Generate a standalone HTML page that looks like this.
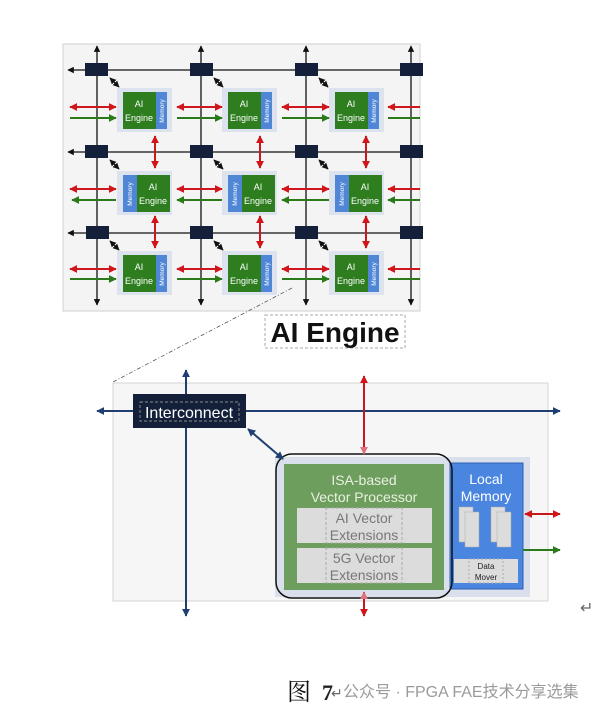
<!DOCTYPE html>
<html><head><meta charset="utf-8"><style>
html,body{margin:0;padding:0;background:#fff;width:610px;height:715px;overflow:hidden}
svg{display:block}
text{font-family:"Liberation Sans",Arial,sans-serif}
</style></head><body>
<svg width="610" height="715" viewBox="0 0 610 715" xmlns="http://www.w3.org/2000/svg">
<defs>
<marker id="k" viewBox="0 0 10 10" refX="9" refY="5" markerWidth="5" markerHeight="5" orient="auto-start-reverse"><path d="M0,0L10,5L0,10z" fill="#111"/></marker>
<marker id="r" viewBox="0 0 10 10" refX="9" refY="5" markerWidth="4" markerHeight="4" orient="auto-start-reverse"><path d="M0,0L10,5L0,10z" fill="#d0161b"/></marker>
<marker id="g" viewBox="0 0 10 10" refX="9" refY="5" markerWidth="4" markerHeight="4" orient="auto-start-reverse"><path d="M0,0L10,5L0,10z" fill="#2a7a1a"/></marker>
<marker id="n" viewBox="0 0 10 10" refX="9" refY="5" markerWidth="4" markerHeight="4" orient="auto-start-reverse"><path d="M0,0L10,5L0,10z" fill="#1f3f73"/></marker>
<marker id="pr" viewBox="0 0 10 10" refX="9" refY="5" markerWidth="4" markerHeight="4" orient="auto-start-reverse"><path d="M0,0L10,5L0,10z" fill="#e0707a"/></marker>
<g id="tileA">
<rect x="-6" y="-4" width="55" height="44" fill="#dde3ee"/>
<rect x="0" y="0" width="33" height="37" fill="#2e7d1f"/>
<rect x="33" y="0" width="11" height="37" fill="#4f86d6"/>
</g>
<g id="tileB">
<rect x="-6" y="-4" width="55" height="44" fill="#dde3ee"/>
<rect x="0" y="0" width="14" height="37" fill="#4f86d6"/>
<rect x="14" y="0" width="33" height="37" fill="#2e7d1f"/>
</g>
</defs>

<rect x="63" y="44" width="357" height="267" fill="#f4f4f4" stroke="#d0d0d0"/>

<g stroke="#111" stroke-width="1.3" fill="none">
<line x1="97" y1="46" x2="97" y2="305" marker-start="url(#k)" marker-end="url(#k)"/>
<line x1="201" y1="46" x2="201" y2="305" marker-start="url(#k)" marker-end="url(#k)"/>
<line x1="306" y1="46" x2="306" y2="305" marker-start="url(#k)" marker-end="url(#k)"/>
<line x1="411" y1="46" x2="411" y2="305" marker-start="url(#k)" marker-end="url(#k)"/>
<line x1="68" y1="70" x2="420" y2="70" marker-start="url(#k)" marker-end="url(#k)"/>
<line x1="68" y1="152" x2="420" y2="152" marker-start="url(#k)" marker-end="url(#k)"/>
<line x1="68" y1="233" x2="420" y2="233" marker-start="url(#k)" marker-end="url(#k)"/>
<line x1="110" y1="78" x2="119" y2="87" marker-start="url(#k)" marker-end="url(#k)"/>
<line x1="214" y1="78" x2="223" y2="87" marker-start="url(#k)" marker-end="url(#k)"/>
<line x1="319" y1="78" x2="328" y2="87" marker-start="url(#k)" marker-end="url(#k)"/>
<line x1="110" y1="160" x2="119" y2="169" marker-start="url(#k)" marker-end="url(#k)"/>
<line x1="214" y1="160" x2="223" y2="169" marker-start="url(#k)" marker-end="url(#k)"/>
<line x1="319" y1="160" x2="328" y2="169" marker-start="url(#k)" marker-end="url(#k)"/>
<line x1="110" y1="241" x2="119" y2="250" marker-start="url(#k)" marker-end="url(#k)"/>
<line x1="214" y1="241" x2="223" y2="250" marker-start="url(#k)" marker-end="url(#k)"/>
<line x1="319" y1="241" x2="328" y2="250" marker-start="url(#k)" marker-end="url(#k)"/>
</g>
<g fill="#14203a">
<rect x="85" y="63" width="23" height="13"/><rect x="190" y="63" width="23" height="13"/><rect x="295" y="63" width="23" height="13"/><rect x="400" y="63" width="23" height="13"/>
<rect x="85" y="145" width="23" height="13"/><rect x="190" y="145" width="23" height="13"/><rect x="295" y="145" width="23" height="13"/><rect x="400" y="145" width="23" height="13"/>
<rect x="86" y="226" width="23" height="13"/><rect x="190" y="226" width="23" height="13"/><rect x="295" y="226" width="23" height="13"/><rect x="400" y="226" width="23" height="13"/>
</g>
<use href="#tileA" x="123" y="92"/><use href="#tileA" x="228" y="92"/><use href="#tileA" x="335" y="92"/>
<use href="#tileB" x="123" y="175"/><use href="#tileB" x="228" y="175"/><use href="#tileB" x="335" y="175"/>
<use href="#tileA" x="123" y="255"/><use href="#tileA" x="228" y="255"/><use href="#tileA" x="335" y="255"/>
<g fill="#fff" font-size="9" text-anchor="middle">
<text x="139" y="107">AI</text><text x="139" y="121">Engine</text>
<text x="244" y="107">AI</text><text x="244" y="121">Engine</text>
<text x="351" y="107">AI</text><text x="351" y="121">Engine</text>
<text x="153" y="190">AI</text><text x="153" y="204">Engine</text>
<text x="258" y="190">AI</text><text x="258" y="204">Engine</text>
<text x="365" y="190">AI</text><text x="365" y="204">Engine</text>
<text x="139" y="270">AI</text><text x="139" y="284">Engine</text>
<text x="244" y="270">AI</text><text x="244" y="284">Engine</text>
<text x="351" y="270">AI</text><text x="351" y="284">Engine</text>
</g>
<g fill="#fff" font-size="6.5" text-anchor="middle">
<text transform="translate(164,111) rotate(-90)">Memory</text>
<text transform="translate(269,111) rotate(-90)">Memory</text>
<text transform="translate(376,111) rotate(-90)">Memory</text>
<text transform="translate(132,194) rotate(-90)">Memory</text>
<text transform="translate(237,194) rotate(-90)">Memory</text>
<text transform="translate(344,194) rotate(-90)">Memory</text>
<text transform="translate(164,274) rotate(-90)">Memory</text>
<text transform="translate(269,274) rotate(-90)">Memory</text>
<text transform="translate(376,274) rotate(-90)">Memory</text>
</g>
<g stroke="#d0161b" stroke-width="2" fill="none">
<line x1="70" y1="107" x2="116" y2="107" marker-start="url(#r)" marker-end="url(#r)"/>
<line x1="177" y1="107" x2="222" y2="107" marker-start="url(#r)" marker-end="url(#r)"/>
<line x1="282" y1="107" x2="329" y2="107" marker-start="url(#r)" marker-end="url(#r)"/>
<line x1="388" y1="107" x2="420" y2="107" marker-start="url(#r)"/>
<line x1="70" y1="189" x2="116" y2="189" marker-start="url(#r)" marker-end="url(#r)"/>
<line x1="177" y1="189" x2="222" y2="189" marker-start="url(#r)" marker-end="url(#r)"/>
<line x1="282" y1="189" x2="329" y2="189" marker-start="url(#r)" marker-end="url(#r)"/>
<line x1="388" y1="189" x2="420" y2="189" marker-start="url(#r)"/>
<line x1="70" y1="269" x2="116" y2="269" marker-start="url(#r)" marker-end="url(#r)"/>
<line x1="177" y1="269" x2="222" y2="269" marker-start="url(#r)" marker-end="url(#r)"/>
<line x1="282" y1="269" x2="329" y2="269" marker-start="url(#r)" marker-end="url(#r)"/>
<line x1="388" y1="269" x2="420" y2="269" marker-start="url(#r)"/>
<line x1="155" y1="136" x2="155" y2="168" marker-start="url(#r)" marker-end="url(#r)"/>
<line x1="260" y1="136" x2="260" y2="168" marker-start="url(#r)" marker-end="url(#r)"/>
<line x1="366" y1="136" x2="366" y2="168" marker-start="url(#r)" marker-end="url(#r)"/>
<line x1="155" y1="216" x2="155" y2="248" marker-start="url(#r)" marker-end="url(#r)"/>
<line x1="260" y1="216" x2="260" y2="248" marker-start="url(#r)" marker-end="url(#r)"/>
<line x1="366" y1="216" x2="366" y2="248" marker-start="url(#r)" marker-end="url(#r)"/>
</g>
<g stroke="#2a7a1a" stroke-width="2" fill="none">
<line x1="70" y1="118" x2="116" y2="118" marker-end="url(#g)"/>
<line x1="177" y1="118" x2="222" y2="118" marker-end="url(#g)"/>
<line x1="282" y1="118" x2="329" y2="118" marker-end="url(#g)"/>
<line x1="388" y1="118" x2="420" y2="118"/>
<line x1="72" y1="200" x2="116" y2="200" marker-start="url(#g)"/>
<line x1="177" y1="200" x2="222" y2="200" marker-start="url(#g)"/>
<line x1="282" y1="200" x2="329" y2="200" marker-start="url(#g)"/>
<line x1="388" y1="200" x2="420" y2="200" marker-start="url(#g)"/>
<line x1="70" y1="279" x2="116" y2="279" marker-end="url(#g)"/>
<line x1="177" y1="279" x2="222" y2="279" marker-end="url(#g)"/>
<line x1="282" y1="279" x2="329" y2="279" marker-end="url(#g)"/>
<line x1="388" y1="279" x2="420" y2="279"/>
</g>

<rect x="265" y="315" width="140" height="33" fill="#fff" stroke="#aaa" stroke-dasharray="3,2"/>
<text x="335" y="342" font-size="28" font-weight="bold" text-anchor="middle" fill="#111">AI Engine</text>
<line x1="292" y1="288" x2="113" y2="382" stroke="#555" stroke-width="0.8" stroke-dasharray="4,2,1,2"/>

<rect x="113" y="383" width="435" height="218" fill="#f6f6f6" stroke="#d4d4d4"/>
<rect x="275" y="457" width="255" height="140" fill="#d9e0ec"/>
<rect x="450" y="463" width="73" height="126" fill="#4a86e0" stroke="#2e5fb0"/>
<rect x="284" y="464" width="160" height="126" fill="#6e9e5e"/>
<rect x="276" y="454" width="176" height="144" rx="16" fill="none" stroke="#111" stroke-width="1.5"/>
<rect x="297" y="508" width="135" height="35" fill="#dcdcdc"/>
<rect x="297" y="548" width="135" height="35" fill="#dcdcdc"/>
<rect x="326" y="508" width="76" height="35" fill="none" stroke="#aaa" stroke-dasharray="3,2"/>
<rect x="326" y="548" width="76" height="35" fill="none" stroke="#aaa" stroke-dasharray="3,2"/>
<text x="364" y="485" font-size="14" fill="#e8f0e0" text-anchor="middle">ISA-based</text>
<text x="364" y="502" font-size="14" fill="#e8f0e0" text-anchor="middle">Vector Processor</text>
<g font-size="14" fill="#777" text-anchor="middle">
<text x="364" y="523">AI Vector</text><text x="364" y="540">Extensions</text>
<text x="364" y="563">5G Vector</text><text x="364" y="580">Extensions</text>
</g>
<text x="486" y="484" font-size="14" fill="#fff" text-anchor="middle">Local</text>
<text x="486" y="501" font-size="14" fill="#fff" text-anchor="middle">Memory</text>
<g fill="#dcdcdc" stroke="#aaa" stroke-width="0.5">
<rect x="459" y="507" width="14" height="35"/><rect x="465" y="512" width="14" height="35"/>
<rect x="491" y="507" width="14" height="35"/><rect x="497" y="512" width="14" height="35"/>
</g>
<rect x="454" y="559" width="64" height="24" fill="#dcdcdc"/>
<rect x="469" y="559" width="34" height="24" fill="none" stroke="#aaa" stroke-dasharray="2,2"/>
<text x="486" y="569" font-size="8" fill="#222" text-anchor="middle">Data</text>
<text x="486" y="580" font-size="8" fill="#222" text-anchor="middle">Mover</text>

<g stroke="#1f3f73" stroke-width="2" fill="none">
<line x1="186" y1="370" x2="186" y2="616" marker-start="url(#n)" marker-end="url(#n)"/>
<line x1="97" y1="411" x2="560" y2="411" marker-start="url(#n)" marker-end="url(#n)"/>
<line x1="248" y1="429" x2="283" y2="459" marker-start="url(#n)" marker-end="url(#n)"/>
</g>
<rect x="133" y="394" width="113" height="34" fill="#14203a"/>
<rect x="140" y="402" width="99" height="19" fill="none" stroke="#888" stroke-dasharray="3,2"/>
<text x="189" y="418" font-size="16" fill="#fff" text-anchor="middle">Interconnect</text>

<g stroke="#c8161b" stroke-width="2" fill="none">
<line x1="364" y1="376" x2="364" y2="454" marker-start="url(#r)" marker-end="url(#pr)"/>
<line x1="364" y1="592" x2="364" y2="616" marker-start="url(#pr)" marker-end="url(#r)"/>
<line x1="525" y1="514" x2="560" y2="514" marker-start="url(#r)" marker-end="url(#r)"/>
</g>
<line x1="523" y1="550" x2="560" y2="550" stroke="#2a7a1a" stroke-width="2" marker-end="url(#g)"/>

<text x="580" y="613" font-size="16" fill="#666">↵</text>
<text x="287" y="700" font-size="24" fill="#111" style="font-family:'Noto Serif CJK SC',serif">图</text>
<text x="322" y="700" font-size="22" font-weight="bold" fill="#222" style="font-family:'Liberation Serif',serif">7</text>
<text x="331" y="698" font-size="14" fill="#666">↵</text>
<text x="343" y="697" font-size="16" fill="#9a9a9a" style="font-family:'Liberation Sans','Noto Sans CJK SC',sans-serif">公众号 · FPGA FAE技术分享选集</text>
</svg>
</body></html>
